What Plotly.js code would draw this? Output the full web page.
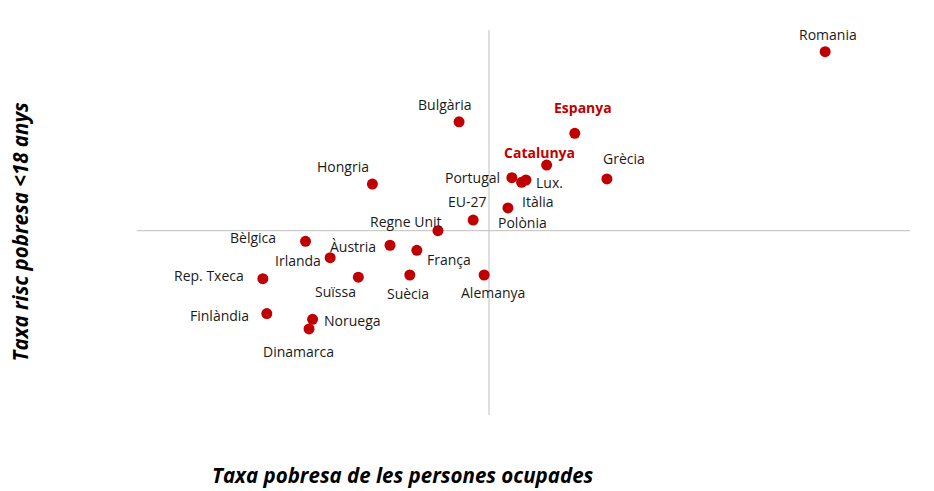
<!DOCTYPE html>
<html>
<head>
<meta charset="utf-8">
<script src="https://cdn.plot.ly/plotly-3.0.1.min.js"></script>
<style>html,body{margin:0;padding:0;background:#fff;}#chart{width:934px;height:491px;}</style>
</head>
<body>
<div id="chart"></div>
<script>
// Data
const countries = ["Romania","Espanya","Catalunya","Grècia","Portugal","Lux.","Itàlia","Polònia","Bulgària","Hongria","EU-27","Regne Unit","Bèlgica","Àustria","França","Irlanda","Rep. Txeca","Suïssa","Suècia","Alemanya","Finlàndia","Noruega","Dinamarca"];
const workPoverty = [15.64, 9.95, 9.31, 10.68, 8.52, 8.84, 8.74, 8.43, 7.32, 5.35, 7.64, 6.84, 3.83, 5.75, 6.36, 4.39, 2.86, 5.03, 6.20, 7.89, 2.95, 3.99, 3.91];
const childPoverty = [30.77, 24.49, 22.05, 20.98, 21.08, 20.90, 20.72, 18.75, 25.38, 20.59, 17.82, 17.00, 16.18, 15.88, 15.49, 14.92, 13.31, 13.42, 13.59, 13.59, 10.62, 10.18, 9.44];
const highlighted = ["Espanya","Catalunya"];
const xCross = 8;
const yCross = 17;
const xTitle = "Taxa pobresa de les persones ocupades";
const yTitle = "Taxa risc pobresa <18 anys";

// Label placement (styling): [xanchor, xshift, yshift]
const labelPlacement = {
  "Romania":["center",3,17], "Espanya":["center",8,26], "Catalunya":["center",-7,13],
  "Grècia":["center",17,20], "Portugal":["right",-10,0], "Lux.":["left",8,-2],
  "Itàlia":["center",16,-19], "Polònia":["center",15,-15], "Bulgària":["center",-14,17],
  "Hongria":["center",-29,18], "EU-27":["center",-6,19], "Regne Unit":["center",-32,9],
  "Bèlgica":["right",-28,4], "Àustria":["right",-12,-1], "França":["left",8,-9],
  "Irlanda":["right",-7,-3], "Rep. Txeca":["right",-17,3], "Suïssa":["center",-23,-14],
  "Suècia":["center",-2,-18], "Alemanya":["center",9,-17], "Finlàndia":["right",-16,-2],
  "Noruega":["left",9,-1], "Dinamarca":["center",-11,-23]
};

const trace = {
  type: "scatter", mode: "markers",
  x: workPoverty, y: childPoverty, text: countries,
  marker: {color: "#C00000", size: 11},
  hoverinfo: "text+x+y"
};

const annotations = countries.map((c, i) => {
  const p = labelPlacement[c];
  const hi = highlighted.includes(c);
  return {
    x: workPoverty[i], y: childPoverty[i], xref: "x", yref: "y",
    text: hi ? "<b>" + c + "</b>" : c,
    showarrow: false, xanchor: p[0], yanchor: "middle",
    xshift: p[1], yshift: p[2],
    font: {family: "Open Sans, sans-serif", size: 14, color: hi ? "#C00000" : "#1a1a1a"}
  };
});
annotations.push({
  text: "<b><i>" + xTitle + "</i></b>", xref: "paper", yref: "paper",
  x: (403 - 137) / 773, y: -0.156, xanchor: "center", yanchor: "middle", showarrow: false,
  font: {family: "Open Sans, sans-serif", size: 20.5, color: "#000"}
});
annotations.push({
  text: "<b><i>" + yTitle + "</i></b>", xref: "paper", yref: "paper",
  x: -0.152, y: (415 - 232) / 385, xanchor: "center", yanchor: "middle", showarrow: false,
  textangle: -90,
  font: {family: "Open Sans, sans-serif", size: 20.5, color: "#000"}
});

const layout = {
  width: 934, height: 491,
  margin: {l: 137, r: 24, t: 30, b: 76},
  paper_bgcolor: "#fff", plot_bgcolor: "#fff",
  showlegend: false,
  xaxis: {range: [0, 17.568], showgrid: false, zeroline: false, showticklabels: false, showline: false, ticks: ""},
  yaxis: {range: [2.82, 32.44], showgrid: false, zeroline: false, showticklabels: false, showline: false, ticks: ""},
  shapes: [
    {type: "line", xref: "x", yref: "paper", x0: xCross, x1: xCross, y0: 0, y1: 1, line: {color: "#BFBFBF", width: 1}, layer: "below"},
    {type: "line", xref: "paper", yref: "y", x0: 0, x1: 1, y0: yCross, y1: yCross, line: {color: "#BFBFBF", width: 1}, layer: "below"}
  ],
  annotations: annotations
};

Plotly.newPlot("chart", [trace], layout, {displayModeBar: false, staticPlot: true});
</script>
</body>
</html>
